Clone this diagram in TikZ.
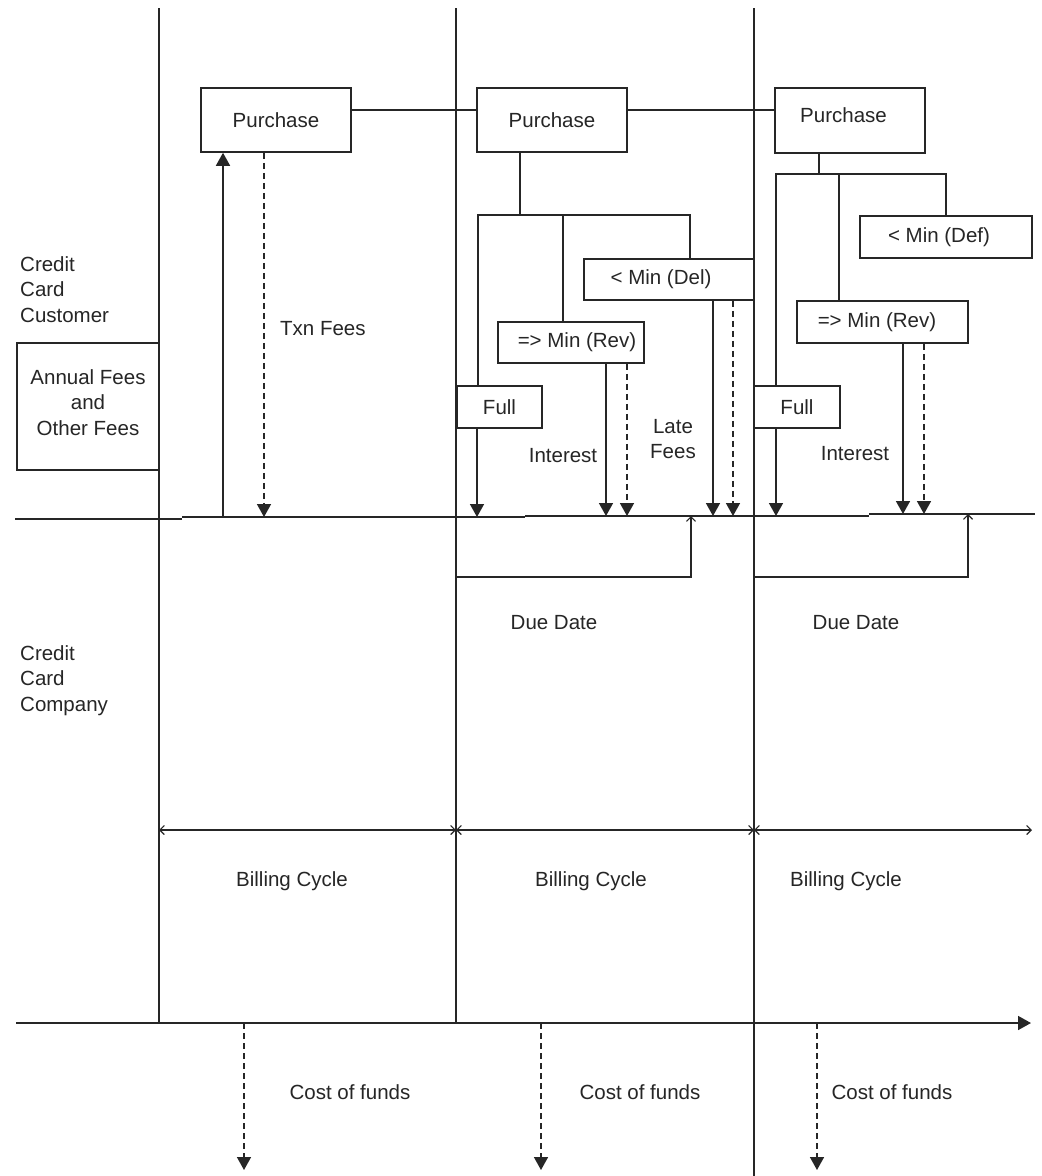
\documentclass[tikz,border=0pt]{standalone}
\usepackage{fontspec}
\setmainfont{Liberation Sans}
\usetikzlibrary{arrows.meta}
\definecolor{ink}{RGB}{38,38,38}
\newcommand{\lblfont}{\fontsize{20.5}{25.5}\selectfont}

\begin{document}
\begin{tikzpicture}[x=1pt,y=-1pt,
  line/.style={draw=ink, line width=1.6pt},
  thin/.style={draw=ink, line width=1.2pt},
  box/.style={line, fill=white, inner sep=0pt, font=\lblfont, text=ink, align=center},
  lbl/.style={inner sep=0pt, font=\lblfont, text=ink},
  flow/.style={line, -{Triangle[width=14pt,length=13pt]}},
  dflow/.style={flow, dash pattern=on 6pt off 4pt},
  span/.style={thin, {Straight Barb[length=4.5pt,width=9pt]}-{Straight Barb[length=4.5pt,width=9pt]}},
  ret/.style={thin, -{Straight Barb[length=4.5pt,width=9pt]}}]

\useasboundingbox[fill=white] (0,0) rectangle (1042,1176);

% cycle boundaries
\coordinate (v1t) at (159,8);  \coordinate (v1b) at (159,1023);
\coordinate (v2t) at (456,8);  \coordinate (v2b) at (456,1023);
\coordinate (v3t) at (754,8);  \coordinate (v3b) at (754,1176);
\draw[line] (v1t) -- (v1b);
\draw[line] (v2t) -- (v2b);
\draw[line] (v3t) -- (v3b);

% customer / company boundary
\draw[line] (15,519) -- (182,519);
\draw[line] (182,517) -- (525,517);
\draw[line] (525,516) -- (869,516);
\draw[line] (869,514) -- (1035,514);

% time axis
\coordinate (ax0) at (16,1023);
\coordinate (ax1) at (1031,1023);
\draw[flow] (ax0) -- (ax1);

% side labels
\node[lbl, anchor=north west, align=left] (cust) at (20,256) {Credit\\Card\\Customer};
\node[lbl, anchor=north west, align=left] (comp) at (20,645) {Credit\\Card\\Company};
\node[box, minimum width=142pt, minimum height=127pt] (annual) at (88,406.5)
  {Annual Fees\\[0pt]and\\[0pt]Other Fees\\[-17pt]\mbox{}};

% purchases
\node[box, minimum width=150pt, minimum height=64pt] (p1) at (276,120) {Purchase};
\node[box, minimum width=150pt, minimum height=64pt] (p2) at (552,120) {Purchase};
\node[box, minimum width=150pt, minimum height=65pt, text depth=10pt] (p3) at (850,120.5) {Purchase\hspace*{13pt}};
\draw[line] ([yshift=10pt]p1.east) -- ([yshift=10pt]p2.west);
\draw[line] ([yshift=10pt]p2.east) -- ([yshift=10.5pt]p3.west);

% cycle 1: transaction fees
\coordinate (t1) at (223,517);
\coordinate (t2) at (264,517);
\draw[flow] (t1) -- (t1 |- p1.south);
\draw[dflow] (t2 |- p1.south) -- (t2);
\node[lbl, anchor=west] (txn) at (280,329) {Txn Fees};

% cycle 2 payment options
\node[box, minimum width=170pt, minimum height=41pt] (del) at (669,279.5) {< Min (Del)\hspace*{16pt}};
\node[box, minimum width=146pt, minimum height=41pt] (revA) at (571,342.5) {\hspace*{12pt}=> Min (Rev)};
\node[box, minimum width=85pt, minimum height=42pt] (fullA) at (499.5,407) {Full};
\coordinate (j2) at (520,215);
\coordinate (aF) at (478,215);
\coordinate (aR) at (563,215);
\coordinate (aD) at (690,215);
\draw[line] (j2 |- p2.south) -- (j2);
\draw[line] (aF |- fullA.north) -- (aF) -- (aD) -- (aD |- del.north);
\draw[line] (aR) -- (aR |- revA.north);

\draw[flow] (fullA.south -| 477,0) -- (477,517);
\draw[flow] (revA.south -| 606,0) -- (606,516);
\draw[dflow] (revA.south -| 627,0) -- (627,516);
\draw[flow] (del.south -| 713,0) -- (713,516);
\draw[dflow] (del.south -| 733,0) -- (733,516);
\node[lbl] (intA) at (563,456) {Interest};
\node[lbl, align=center] (late) at (673,439) {Late\\Fees};

\coordinate (dA) at (691,516);
\draw[ret] (v2t |- 0,577) -| (dA);
\node[lbl] (dueA) at (554,623) {Due Date};

% cycle 3 payment options
\node[box, minimum width=172pt, minimum height=42pt] (def) at (946,237) {< Min (Def)\hspace*{14pt}};
\node[box, minimum width=171pt, minimum height=42pt] (revB) at (882.5,322) {=> Min (Rev)\hspace*{11pt}};
\node[box, minimum width=86pt, minimum height=42pt] (fullB) at (797,407) {Full};
\coordinate (j3) at (819,174);
\coordinate (bF) at (776,174);
\coordinate (bR) at (839,174);
\coordinate (bD) at (946,174);
\draw[line] (j3 |- p3.south) -- (j3);
\draw[line] (bF |- fullB.north) -- (bF) -- (bD) -- (bD |- def.north);
\draw[line] (bR) -- (bR |- revB.north);

\draw[flow] (fullB.south -| 776,0) -- (776,516);
\draw[flow] (revB.south -| 903,0) -- (903,514);
\draw[dflow] (revB.south -| 924,0) -- (924,514);
\node[lbl] (intB) at (855,454) {Interest};

\coordinate (dB) at (968,514);
\draw[ret] (v3t |- 0,577) -| (dB);
\node[lbl] (dueB) at (856,623) {Due Date};

% billing cycles
\draw[span] (159,830) -- (456,830);
\draw[span] (456,830) -- (754,830);
\draw[span] (754,830) -- (1032,830);
\node[lbl] (bc1) at (292,881) {Billing Cycle};
\node[lbl] (bc2) at (591,881) {Billing Cycle};
\node[lbl] (bc3) at (846,881) {Billing Cycle};

% cost of funds
\coordinate (c1) at (244,1023); \coordinate (c1e) at (244,1170);
\coordinate (c2) at (541,1023); \coordinate (c2e) at (541,1170);
\coordinate (c3) at (817,1023); \coordinate (c3e) at (817,1170);
\draw[dflow] (c1) -- (c1e);
\draw[dflow] (c2) -- (c2e);
\draw[dflow] (c3) -- (c3e);
\node[lbl] (cf1) at (350,1092) {Cost of funds};
\node[lbl] (cf2) at (640,1092) {Cost of funds};
\node[lbl] (cf3) at (892,1092) {Cost of funds};
\end{tikzpicture}
\end{document}
